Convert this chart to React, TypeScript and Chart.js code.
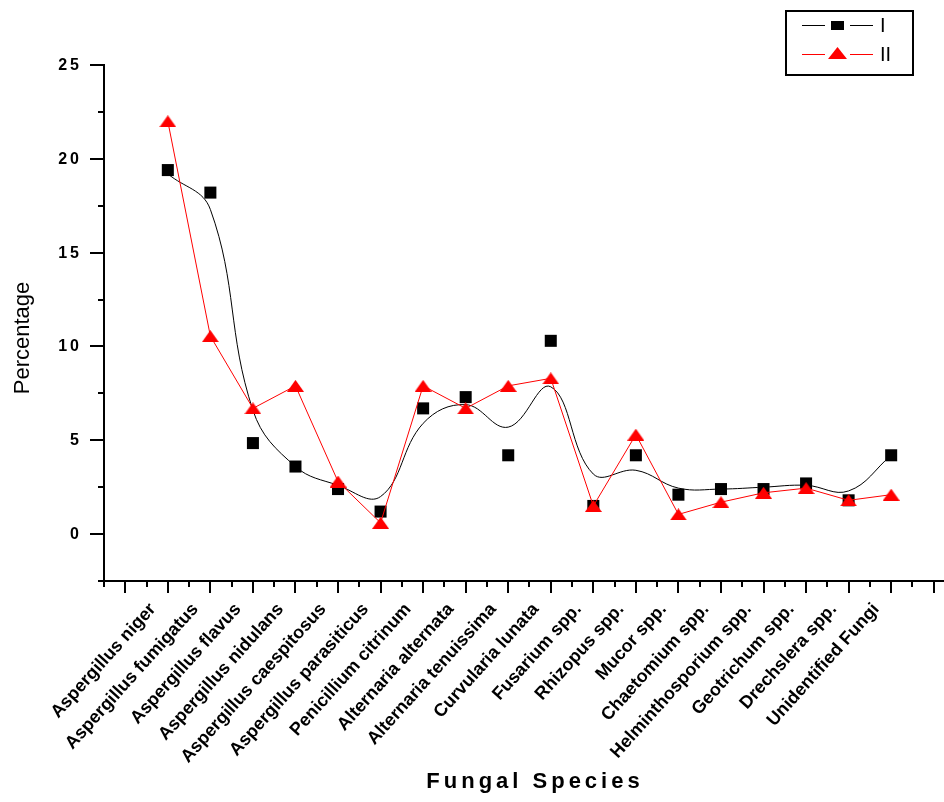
import React, { useEffect, useRef } from 'react';
import { Chart, registerables } from 'chart.js';

Chart.register(...registerables);

const categories = [
  'Aspergillus niger',
  'Aspergillus fumigatus',
  'Aspergillus flavus',
  'Aspergillus nidulans',
  'Aspergillus caespitosus',
  'Aspergillus parasiticus',
  'Penicillium citrinum',
  'Alternaria alternata',
  'Alternaria tenuissima',
  'Curvularia lunata',
  'Fusarium spp.',
  'Rhizopus spp.',
  'Mucor spp.',
  'Chaetomium spp.',
  'Helminthosporium spp.',
  'Geotrichum spp.',
  'Drechslera spp.',
  'Unidentified Fungi',
];

// Series I (black squares)
const seriesI = [19.4, 18.2, 4.85, 3.6, 2.4, 1.2, 6.7, 7.3, 4.2, 10.3, 1.5, 4.2, 2.1, 2.4, 2.4, 2.7, 1.8, 4.2];
// Smoothed curve for series I
const seriesIFit = [19.2, 17.3, 6.6, 3.6, 2.6, 2.0, 5.9, 6.9, 5.7, 7.85, 3.2, 3.4, 2.45, 2.4, 2.5, 2.6, 2.3, 4.2];
// Series II (red triangles)
const seriesII = [22.0, 10.55, 6.7, 7.9, 2.8, 0.6, 7.9, 6.7, 7.9, 8.3, 1.5, 5.3, 1.05, 1.7, 2.2, 2.45, 1.8, 2.1];

const yTickLabels = [0, 5, 10, 15, 20, 25];
const legendLabels = ['I', 'II'];
const xTitle = 'Fungal Species';
const yTitle = 'Percentage';

const FONT = '"Liberation Sans", Arial, sans-serif';

function makeTriangle(w: number, h: number, color: string) {
  const c = document.createElement('canvas');
  c.width = w;
  c.height = h;
  const g = c.getContext('2d')!;
  g.fillStyle = color;
  g.beginPath();
  g.moveTo(w / 2, 0);
  g.lineTo(w, h);
  g.lineTo(0, h);
  g.closePath();
  g.fill();
  return c;
}

const isInt = (v: number) => Math.abs(v - Math.round(v)) < 1e-6;

export default function App() {
  const ref = useRef<HTMLCanvasElement | null>(null);

  useEffect(() => {
    if (!ref.current) return;
    const tri = makeTriangle(17, 12, '#ff0000');
    const triLegend = makeTriangle(19, 12, '#ff0000');

    const customPlugin = {
      id: 'customDecor',
      afterDraw(chart: any) {
        const ctx = chart.ctx as CanvasRenderingContext2D;
        const xs = chart.scales.x;
        const ys = chart.scales.y;
        ctx.save();
        ctx.strokeStyle = '#000';
        ctx.lineWidth = 2;
        // extend x axis line to the right edge
        ctx.beginPath();
        ctx.moveTo(xs.right, xs.top);
        ctx.lineTo(chart.width, xs.top);
        ctx.stroke();
        // x ticks: major at integers, minor at halves
        for (let k = Math.ceil(xs.min * 2); k <= Math.floor(xs.max * 2 + 1e-6); k++) {
          const v = k / 2;
          const px = Math.round(xs.getPixelForValue(v));
          const len = isInt(v) ? 12 : 6;
          ctx.beginPath();
          ctx.moveTo(px, xs.top);
          ctx.lineTo(px, xs.top + len);
          ctx.stroke();
        }
        // y ticks
        for (const t of ys.ticks) {
          const v = t.value;
          const py = Math.round(ys.getPixelForValue(v));
          const major = Math.abs(v / 5 - Math.round(v / 5)) < 1e-6;
          const len = major ? 14 : 6;
          ctx.beginPath();
          ctx.moveTo(ys.right, py);
          ctx.lineTo(ys.right - len, py);
          ctx.stroke();
        }
        // y tick labels (wide-spaced bold digits)
        ctx.fillStyle = '#000';
        ctx.font = `bold 16px ${FONT}`;
        (ctx as any).letterSpacing = '3px';
        ctx.textAlign = 'left';
        ctx.textBaseline = 'middle';
        for (const v of yTickLabels) {
          const s = String(v);
          const w = ctx.measureText(s).width - 3;
          const py = ys.getPixelForValue(v);
          ctx.fillText(s, 79 - w, py + 0.5);
        }
        // x axis title
        ctx.font = `bold 22px ${FONT}`;
        (ctx as any).letterSpacing = '4px';
        ctx.textAlign = 'center';
        ctx.textBaseline = 'alphabetic';
        ctx.fillText(xTitle, 535, 788);
        (ctx as any).letterSpacing = '0px';

        // y axis title
        ctx.save();
        ctx.translate(23, 338);
        ctx.rotate(-Math.PI / 2);
        ctx.font = `22px ${FONT}`;
        ctx.textAlign = 'center';
        ctx.textBaseline = 'middle';
        ctx.fillText(yTitle, 0, 0);
        ctx.restore();

        // legend
        ctx.lineWidth = 2;
        ctx.strokeStyle = '#000';
        ctx.strokeRect(786, 11, 127, 64);
        const rows = [
          { y: 25, color: '#000000', label: legendLabels[0], marker: 'rect' },
          { y: 54, color: '#ff0000', label: legendLabels[1], marker: 'tri' },
        ];
        for (const r of rows) {
          ctx.lineWidth = 1;
          ctx.strokeStyle = r.color;
          ctx.beginPath();
          ctx.moveTo(802, r.y + 0.5);
          ctx.lineTo(825, r.y + 0.5);
          ctx.moveTo(850, r.y + 0.5);
          ctx.lineTo(873, r.y + 0.5);
          ctx.stroke();
          if (r.marker === 'rect') {
            ctx.fillStyle = '#000';
            ctx.fillRect(831, r.y - 4, 13, 9);
          } else {
            ctx.drawImage(triLegend, 828, r.y - 7);
          }
          ctx.fillStyle = '#000';
          ctx.font = `20px ${FONT}`;
          ctx.textAlign = 'left';
          ctx.textBaseline = 'middle';
          ctx.fillText(r.label, 880, r.y + 1);
        }
        ctx.restore();
      },
    };

    const chart = new Chart(ref.current, {
      type: 'line',
      data: {
        datasets: [
          {
            label: legendLabels[1],
            data: seriesII.map((v, i) => ({ x: i + 1, y: v })),
            borderColor: '#ff0000',
            backgroundColor: '#ff0000',
            borderWidth: 1,
            pointStyle: tri as any,
            pointRadius: 8,
            tension: 0,
            order: 0,
          },
          {
            label: legendLabels[0],
            data: seriesI.map((v, i) => ({ x: i + 1, y: v })),
            borderColor: '#000000',
            backgroundColor: '#000000',
            showLine: false,
            pointStyle: 'rect',
            pointRadius: 8.5,
            pointBorderWidth: 0,
            order: 1,
          },
          {
            label: 'I fit',
            data: seriesIFit.map((v, i) => ({ x: i + 1, y: v })),
            borderColor: '#000000',
            borderWidth: 1,
            pointRadius: 0,
            tension: 0.4,
            order: 2,
          },
        ],
      },
      options: {
        animation: false,
        responsive: false,
        maintainAspectRatio: false,
        devicePixelRatio: 1,
        layout: { padding: { top: 65, right: 0, left: 0, bottom: 0 } },
        plugins: {
          legend: { display: false },
          tooltip: { enabled: false },
          title: { display: false },
        },
        scales: {
          x: {
            type: 'linear',
            min: -0.5,
            max: 19.03,
            afterFit(scale: any) {
              scale.height = 221;
              scale.paddingLeft = 0;
              scale.paddingRight = 0;
            },
            grid: { display: false, drawTicks: false },
            border: { display: true, color: '#000', width: 2 },
            ticks: {
              stepSize: 0.5,
              maxTicksLimit: 100,
              autoSkip: false,
              minRotation: 48,
              maxRotation: 48,
              padding: 18,
              labelOffset: -15,
              color: '#000',
              font: { family: FONT, size: 18, weight: 'bold' },
              callback: (value: any) => {
                const v = Number(value);
                if (!isInt(v)) return '';
                const i = Math.round(v);
                return i >= 1 && i <= categories.length ? categories[i - 1] : '';
              },
            },
          },
          y: {
            type: 'linear',
            min: -2.5,
            max: 25,
            afterFit(scale: any) {
              scale.width = 104;
              scale.paddingTop = 0;
              scale.paddingBottom = 0;
              scale.paddingLeft = 0;
              scale.paddingRight = 0;
            },
            grid: { display: false, drawTicks: false },
            border: { display: true, color: '#000', width: 2 },
            ticks: {
              stepSize: 2.5,
              maxTicksLimit: 100,
              autoSkip: false,
              padding: 25,
              color: '#000',
              font: { family: FONT, size: 15, weight: 'bold' },
              callback: () => '',
            },
          },
        },
      },
      plugins: [customPlugin],
    } as any);

    return () => chart.destroy();
  }, []);

  return (
    <div style={{ position: 'absolute', left: 0, top: 0, width: 944, height: 802, background: '#fff' }}>
      <canvas ref={ref} width={944} height={802} style={{ width: 944, height: 802 }} />
    </div>
  );
}
